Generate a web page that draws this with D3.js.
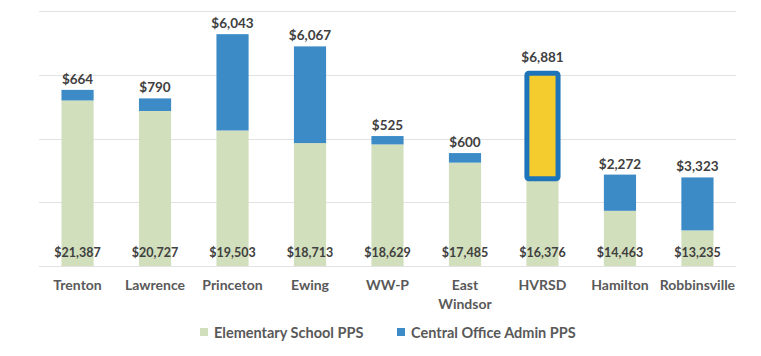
<!DOCTYPE html>
<html><head><meta charset="utf-8">
<script src="https://cdn.jsdelivr.net/npm/d3@7"></script>
<style>body{margin:0;background:#fff}svg{display:block}text{font-family:Lato,"Open Sans",sans-serif;font-weight:bold}</style>
</head><body><svg id="c" width="761" height="356"></svg>
<script>
const categories = ["Trenton","Lawrence","Princeton","Ewing","WW-P","East Windsor","HVRSD","Hamilton","Robbinsville"];
const elementaryPPS = [21387,20727,19503,18713,18629,17485,16376,14463,13235];
const adminPPS = [664,790,6043,6067,525,600,6881,2272,3323];
const highlight = ["HVRSD"];
const yTicks = [11000,15000,19000,23000,27000];
const seriesNames = ["Elementary School PPS","Central Office Admin PPS"];

const svg = d3.select("#c");
const x = d3.scaleBand().domain(categories).range([39,736]).paddingInner(0.585).paddingOuter(0.29);
const y = d3.scaleLinear().domain([11000,27000]).range([266,11]);
const green="#d2dfbd", blue="#3c8bc6", yellow="#f4cc2e", border="#1e74b8";
const fmt = d3.format("$,");

svg.append("g").selectAll("line").data(yTicks).join("line")
  .attr("x1",39).attr("x2",736).attr("y1",d=>Math.round(y(d))+0.5).attr("y2",d=>Math.round(y(d))+0.5)
  .attr("stroke","#e2e2e2").attr("stroke-width",1);

const data = categories.map((c,i)=>({c,e:elementaryPPS[i],a:adminPPS[i],hl:highlight.includes(c)}));
const bw = x.bandwidth();

svg.append("g").selectAll("rect").data(data).join("rect")
  .attr("x",d=>x(d.c)).attr("width",bw)
  .attr("y",d=>y(d.e)).attr("height",d=>y(y.domain()[0])-y(d.e))
  .attr("fill",green);

svg.append("g").selectAll("rect").data(data).join("rect")
  .attr("x",d=>d.hl? x(d.c)+0.5 : x(d.c)).attr("width",d=>d.hl? bw-1 : bw)
  .attr("y",d=>y(d.e+d.a)+(d.hl?2.5:0)).attr("height",d=>y(d.e)-y(d.e+d.a)-(d.hl?4:0))
  .attr("fill",d=>d.hl?yellow:blue)
  .attr("stroke",d=>d.hl?border:"none").attr("stroke-width",d=>d.hl?5:0)
  .attr("rx",d=>d.hl?2:0);

// top labels
svg.append("g").selectAll("text").data(data).join("text")
  .attr("x",d=>x(d.c)+bw/2).attr("y",d=>y(d.e+d.a)-(d.hl?9:6))
  .attr("text-anchor","middle").attr("font-size",13.5).attr("fill","#404040")
  .text(d=>fmt(d.a));

// bottom labels
svg.append("g").selectAll("text").data(data).join("text")
  .attr("x",d=>x(d.c)+bw/2).attr("y",257)
  .attr("text-anchor","middle").attr("font-size",12.5).attr("fill","#404040")
  .text(d=>fmt(d.e));

// category labels
const cat = svg.append("g").selectAll("text").data(data).join("text")
  .attr("x",d=>x(d.c)+bw/2).attr("y",290)
  .attr("text-anchor","middle").attr("font-size",14).attr("fill","#595959");
cat.each(function(d){
  const words = d.c==="East Windsor" ? ["East","Windsor"] : [d.c];
  d3.select(this).selectAll("tspan").data(words).join("tspan")
    .attr("x",x(d.c)+bw/2).attr("dy",(w,i)=>i?19:0).text(w=>w);
});

// legend
const leg = svg.append("g");
const items=[{n:seriesNames[0],c:green,x:200},{n:seriesNames[1],c:blue,x:397}];
items.forEach(it=>{
  leg.append("rect").attr("x",it.x).attr("y",328).attr("width",8).attr("height",8).attr("fill",it.c);
  leg.append("text").attr("x",it.x+14).attr("y",337.5).attr("font-size",14.5).attr("fill","#595959").text(it.n);
});
</script></body></html>
